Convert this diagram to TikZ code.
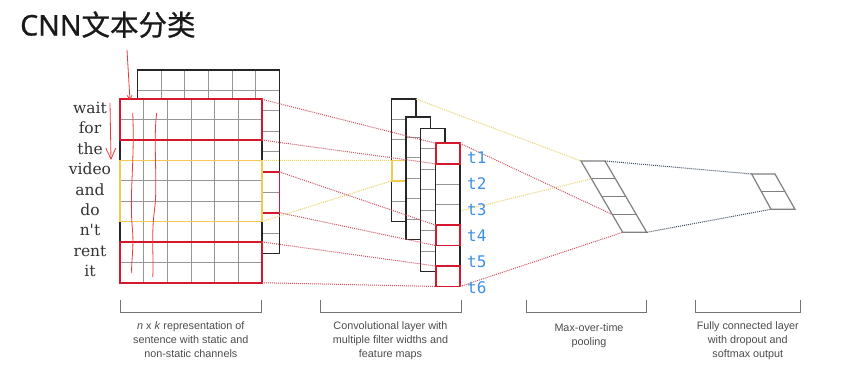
\documentclass[tikz,border=0pt]{standalone}
\usepackage{fontspec}
\setmainfont{DejaVu Serif}
\newfontfamily\titlefont[FakeBold=0.8]{Noto Sans CJK SC}
\newfontfamily\titlelatin[FakeBold=0.6]{Noto Sans}
\newfontfamily\capfont{Liberation Sans}
\newfontfamily\tfont{DejaVu Sans Mono}
\usetikzlibrary{calc,arrows.meta}
\definecolor{boxred}{RGB}{213,25,45}
\definecolor{boxyellow}{RGB}{245,200,80}
\definecolor{linkred}{RGB}{205,85,100}
\definecolor{linkyellow}{RGB}{232,212,110}
\definecolor{linkgrey}{RGB}{60,75,95}
\definecolor{tblue}{RGB}{60,145,230}
\definecolor{inkred}{RGB}{232,60,60}
\definecolor{gridgrey}{RGB}{150,150,150}
\begin{document}
\begin{tikzpicture}[x=1pt, y=-1pt,
    gridline/.style = {draw=gridgrey, line width=0.9pt},
    border/.style = {draw=black!85, line width=1.1pt},
    redbox/.style = {draw=boxred, line width=1.8pt},
    yellowbox/.style = {draw=boxyellow, line width=1.6pt},
    redlink/.style = {draw=linkred, densely dotted, line width=1pt},
    yellowlink/.style = {draw=linkyellow, densely dotted, line width=1pt},
    greylink/.style = {draw=linkgrey, densely dotted, line width=1pt},
    mapframe/.style = {draw=black!50, line width=1.2pt},
    ink/.style = {draw=inkred, line width=0.8pt},
    word/.style = {anchor=base, inner sep=0pt, text=black!80, font=\fontsize{15.5}{16}\selectfont},
    tlabel/.style = {anchor=base west, inner sep=0pt, text=tblue, font=\tfont\fontsize{16}{16}\selectfont},
    capbracket/.style = {draw=black!55, line width=1pt},
    layercap/.style = {anchor=north, inner sep=0pt, align=center, text=black!70, font=\capfont\fontsize{10.8}{14}\selectfont}]
  \fill[white] (0,0) rectangle (867,372);
  \useasboundingbox (0,0) rectangle (867,372);

  \node[anchor=base west, inner sep=0pt, text=black!90, font=\fontsize{28.5}{30}\selectfont] (title) at (20,35.5) {{\titlelatin CNN}{\titlefont 文本分类}};

  \coordinate (pool tl) at (581,161);
  \coordinate (pool tr) at (605,161);
  \coordinate (pool bl) at (622.7,232.3);
  \coordinate (pool br) at (646.7,232.3);
  \coordinate (pool p1) at ($(pool tl)!0.25!(pool bl)$);
  \coordinate (pool p3) at ($(pool tl)!0.75!(pool bl)$);
  \coordinate (fc tl) at (751.7,174);
  \coordinate (fc tr) at (775,174);
  \coordinate (fc bl) at (771,209.3);
  \coordinate (fc br) at (795,209.3);

  % second channel
  \begin{scope}[shift={(137.5,70)}]
    \fill[white] (0,0) rectangle (142,183.4);
    \foreach \c in {1,...,5} \draw[gridline] (\c*23.67,0) -- (\c*23.67,183.4);
    \foreach \r in {1,...,8} \draw[gridline] (0,\r*20.38) -- (142,\r*20.38);
    \draw[border] (0,0) rectangle (142,183.4);
    \draw[redbox] (118.3,5*20.38) rectangle (142,7*20.38);
    \coordinate (back red top) at (142,5*20.38);
    \coordinate (back red bot) at (142,7*20.38);
  \end{scope}

  % first channel with the words
  \begin{scope}[shift={(120,99.3)}]
    \fill[white] (0,0) rectangle (142,183.4);
    \foreach \c in {1,...,5} \draw[gridline] (\c*23.67,0) -- (\c*23.67,183.4);
    \foreach \r in {1,...,8} \draw[gridline] (0,\r*20.38) -- (142,\r*20.38);
    \draw[border] (0,0) rectangle (142,183.4);
    \draw[redbox] (0,0) rectangle (142,2*20.38);
    \draw[yellowbox] (0,3*20.38) rectangle (142,6*20.38);
    \draw[redbox] (0,7*20.38) rectangle (142,9*20.38);
    \coordinate (red1 top) at (142,0);
    \coordinate (red1 bot) at (142,2*20.38);
    \coordinate (yel top) at (142,3*20.38);
    \coordinate (yel bot) at (142,6*20.38);
    \coordinate (red2 top) at (142,7*20.38);
    \coordinate (red2 bot) at (142,9*20.38);
    \foreach \w [count=\k] in {wait,for,the,video,and,do,n\textquotesingle t,rent,it}
      \node[word] (word\k) at (-30,\k*20.38-6.2) {\w};
  \end{scope}

  \draw[ink,-{Straight Barb[length=4pt,width=5pt]}] (127,50) .. controls (128,75) .. (130,100);
  \draw[ink,-{Straight Barb[length=11pt,width=10pt]}] (110,103) -- (111,160);
  \draw[ink] (132.7,113) .. controls (135,160) and (129,195) .. (132.5,230) .. controls (134,250) and (131,262) .. (131.7,273);
  \draw[ink] (156.7,113) .. controls (153,140) and (158,185) .. (154.5,210) .. controls (151,235) and (154,260) .. (152.7,277);

  % feature maps
  \foreach \mx/\my/\n [count=\m] in {391.7/99/6, 406/117/6, 420.7/128.3/7, 435.7/143.3/7} {
    \begin{scope}[shift={(\mx,\my)}]
      \fill[white] (0,0) rectangle (24.3,\n*20.45);
      \foreach \r in {1,...,\n} \draw[gridline] (0,\r*20.45) -- (24.3,\r*20.45);
      \draw[border] (0,0) rectangle (24.3,\n*20.45);
      \coordinate (map\m) at (0,0);
      \ifnum\m=1
        \draw[yellowbox] (0,3*20.45) rectangle (24.3,4*20.45);
        \coordinate (map1 tr) at (24.3,0);
        \coordinate (map1 br) at (24.3,6*20.45);
        \coordinate (map1 ytop) at (0,3*20.45);
        \coordinate (map1 ybot) at (0,4*20.45);
        \draw[yellowlink] (map1 br) -- (pool p1);
      \fi
    \end{scope}
  }
  \begin{scope}[shift={(map4)}]
    \foreach \c in {0,4,6} \draw[redbox] (0,\c*20.45) rectangle (24.3,\c*20.45+20.45);
    \coordinate (c0 tl) at (0,0);
    \coordinate (c0 bl) at (0,20.45);
    \coordinate (c0 tr) at (24.3,0);
    \coordinate (c4 tl) at (0,4*20.45);
    \coordinate (c4 bl) at (0,5*20.45);
    \coordinate (c6 tl) at (0,6*20.45);
    \coordinate (c6 bl) at (0,7*20.45);
    \coordinate (c6 br) at (24.3,7*20.45);
  \end{scope}

  \draw[redlink] (red1 top) -- (c0 tl);
  \draw[redlink] (red1 bot) -- (c0 bl);
  \draw[yellowlink] (yel top) -- (map1 ytop);
  \draw[yellowlink] (yel bot) -- (map1 ybot);
  \draw[redlink] (back red top) -- (c4 tl);
  \draw[redlink] (back red bot) -- (c4 bl);
  \draw[redlink] (red2 top) -- (c6 tl);
  \draw[redlink] (red2 bot) -- (c6 bl);

  \draw[yellowlink] (map1 tr) -- (pool tl);
  \draw[redlink] (c0 tr) -- (pool p3);
  \draw[redlink] (c6 br) -- (pool bl);

  % pooling and output
  \draw[mapframe] (pool tl) -- (pool tr) -- (pool br) -- (pool bl) -- cycle;
  \foreach \t in {0.25,0.5,0.75}
    \draw[mapframe] ($(pool tl)!\t!(pool bl)$) -- ($(pool tr)!\t!(pool br)$);
  \draw[mapframe] (fc tl) -- (fc tr) -- (fc br) -- (fc bl) -- cycle;
  \draw[mapframe] ($(fc tl)!0.5!(fc bl)$) -- ($(fc tr)!0.5!(fc br)$);
  \draw[greylink] (pool tr) -- (fc tl);
  \draw[greylink] (pool br) -- (fc bl);

  \foreach \k in {1,...,6}
    \node[tlabel] (t\k) at (467,137.3+26*\k) {t\k};

  \draw[capbracket] (120,300) |- (261.7,312.7) -- (261.7,300);
  \draw[capbracket] (320,300) |- (461,312.7) -- (461,300);
  \draw[capbracket] (526.7,300) |- (646.7,312.7) -- (646.7,300);
  \draw[capbracket] (695.7,300) |- (800,312.7) -- (800,300);
  \node[layercap] (cap1) at (190.8,321.5) {\textit{n} x \textit{k} representation of\\sentence with static and\\non-static channels};
  \node[layercap] (cap2) at (390.5,321.5) {Convolutional layer with\\multiple filter widths and\\feature maps};
  \node[layercap] (cap3) at (589,323) {Max-over-time\\pooling};
  \node[layercap] (cap4) at (747.8,321.5) {Fully connected layer\\with dropout and\\softmax output};
\end{tikzpicture}
\end{document}
